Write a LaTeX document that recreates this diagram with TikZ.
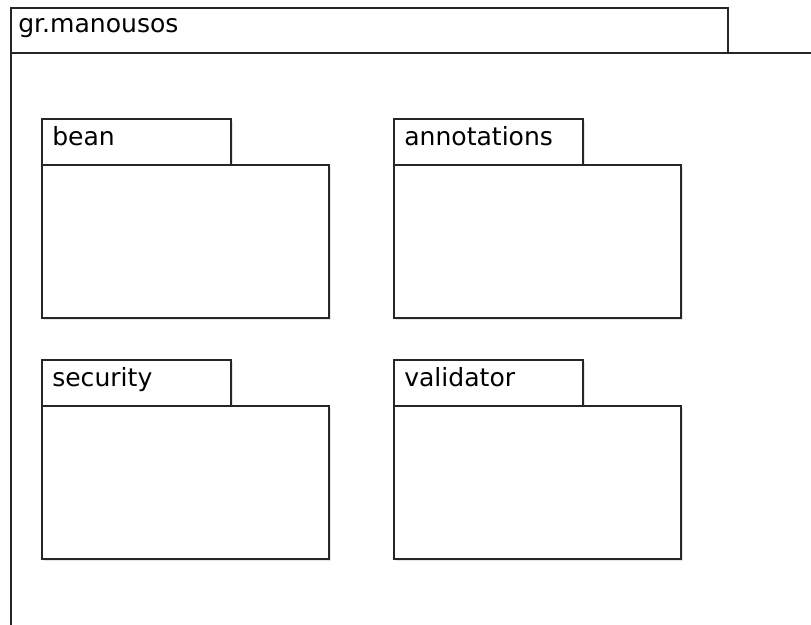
\documentclass[tikz,border=0pt]{standalone}
\usepackage{fontspec}
\setmainfont{DejaVu Sans}
\begin{document}
\begin{tikzpicture}[x=0.75pt,y=-0.75pt,
  outline/.style={draw=black!85,line width=1.4pt,fill=white},
  shade/.style={fill=black!10,draw=none},
  tabbox/.style={outline,anchor=north west,inner sep=0pt,minimum width=141.75pt,minimum height=34.5pt},
  bodybox/.style={outline,anchor=north west,inner sep=0pt,minimum width=215.25pt,minimum height=114.75pt},
  shadetab/.style={shade,anchor=north west,inner sep=0pt,minimum width=141.75pt,minimum height=34.5pt},
  shadebody/.style={shade,anchor=north west,inner sep=0pt,minimum width=215.25pt,minimum height=114.75pt},
  lbl/.style={anchor=base west,inner sep=0pt,font=\fontsize{18.8}{21}\selectfont}]
\useasboundingbox (0,0) rectangle (811,625);
\fill[white] (0,0) rectangle (811,625);
\begin{scope}
\clip (0,0) rectangle (811,625);
% enclosing package gr.manousos (runs past the page edges)
\node[outline,anchor=north west,inner sep=0pt,minimum width=650pt,minimum height=450pt] (outerbody) at (10,52) {};
\node[outline,anchor=north west,inner sep=0pt,minimum width=537.75pt,minimum height=33.75pt] (outertab) at (10,7) {};
\node[lbl] (outerlbl) at (18,32) {gr.manousos};
% nested packages: shadows first, then tab and body
\foreach \nm/\px/\py/\txt in {bean/41/118/bean, annot/393/118/annotations, secu/41/359/security, valid/393/359/validator}{
  \node[shadetab] at (\px+3,\py+3) {};
  \node[shadebody] at (\px+3,\py+49) {};
  \node[tabbox] (\nm tab) at (\px,\py) {};
  \node[bodybox] (\nm body) at (\px,\py+46) {};
  \node[lbl] (\nm lbl) at (\px+11,\py+27) {\txt};
}
\end{scope}
\end{tikzpicture}
\end{document}
